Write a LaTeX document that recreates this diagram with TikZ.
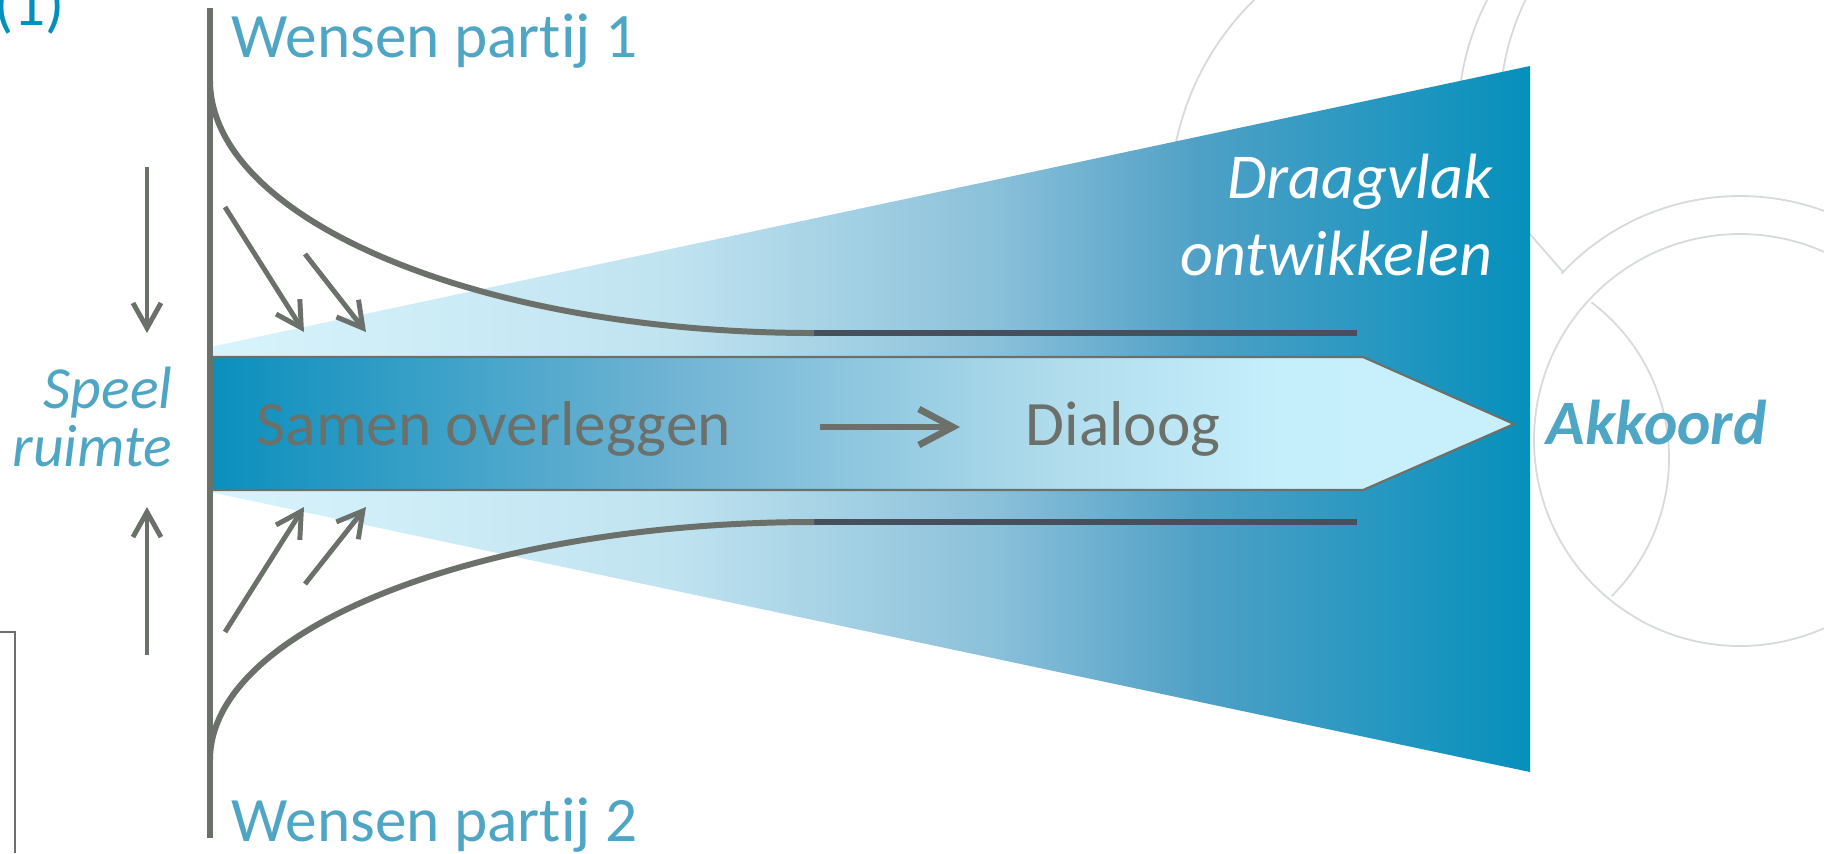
\documentclass[tikz,border=0pt]{standalone}
\usepackage{fontspec}
\setmainfont{Carlito}[Ligatures=NoCommon]
\usepackage{tikz}
\usepackage{xcolor}
\usetikzlibrary{arrows.meta}
\usetikzlibrary{positioning}

\definecolor{lijngrijs}{RGB}{107,112,106}
\definecolor{donkerlijn}{RGB}{71,79,92}
\definecolor{tekstblauw}{RGB}{78,166,196}
\definecolor{diepblauw}{RGB}{0,144,188}
\definecolor{watermerk}{RGB}{214,218,218}
\definecolor{tr0}{RGB}{216,244,252}
\definecolor{tr1}{RGB}{192,227,240}
\definecolor{tr2}{RGB}{140,193,218}
\definecolor{tr3}{RGB}{79,160,198}
\definecolor{tr4}{RGB}{5,144,188}
\definecolor{bd0}{RGB}{10,143,189}
\definecolor{bd1}{RGB}{111,179,211}
\definecolor{bd2}{RGB}{176,220,236}
\definecolor{bd3}{RGB}{198,239,252}
\definecolor{bd4}{RGB}{200,240,252}

\pgfdeclarehorizontalshading{trechter}{100bp}{color(0bp)=(tr0); color(25bp)=(tr0); color(42.5bp)=(tr1); color(54.5bp)=(tr2); color(62.5bp)=(tr3); color(75bp)=(tr4); color(100bp)=(tr4)}
\pgfdeclarehorizontalshading{dialoogband}{100bp}{color(0bp)=(bd0); color(25bp)=(bd0); color(42.5bp)=(bd1); color(57.5bp)=(bd2); color(66bp)=(bd3); color(75bp)=(bd4); color(100bp)=(bd4)}

\begin{document}
\begin{tikzpicture}[x=0.01cm, y=-0.01cm,
		ring/.style={watermerk, line width=0.5pt},
		wens/.style={text=tekstblauw, font=\fontsize{18}{21.6}\selectfont, anchor=base west, inner sep=0pt},
		speel/.style={text=tekstblauw, font=\fontsize{17}{20}\selectfont\itshape, anchor=base east, inner sep=0pt},
		grijstekst/.style={text=lijngrijs, font=\fontsize{18}{21.6}\selectfont, anchor=base west, inner sep=0pt},
		duwpijl/.style={-{Straight Barb[length=2.5mm, width=2.8mm]}, lijngrijs, line width=1.4pt},
		wand/.style={lijngrijs, line width=1.7pt},
		rail/.style={donkerlijn, line width=1.7pt}]
			\useasboundingbox (0,0) rectangle (1824,853);
			\clip (0,0) rectangle (1824,853);
			\fill[white] (0,0) rectangle (1824,853);
			\draw[ring] (1450,200) ++(185:280) arc[start angle=185, end angle=235, radius=280];
			\draw[ring] (1720,120) ++(180:262) arc[start angle=180, end angle=215, radius=262];
			\draw[ring] (1750,110) ++(180:250) arc[start angle=180, end angle=215, radius=250];
			\draw[ring] (1515,217) -- (1563,272);
			\draw[ring] (1740,440) ++(223:244) arc[start angle=223, end angle=300, radius=244];
			\draw[ring] (1740,440) circle[radius=206];
			\draw[ring] (1474,458) ++(-53:195) arc[start angle=-53, end angle=45, radius=195];
			\shade[shading=trechter] (210,347) -- (1530,66) -- (1530,772) -- (210,492) -- cycle;
			\draw[rail] (814,333) -- (1357,333);
			\draw[rail] (814,522) -- (1357,522);
			\draw[wand] (210,80) .. controls (210,220) and (480,333) .. (814,333);
			\draw[wand] (210,760) .. controls (210,629) and (480,522) .. (814,522);
			\shadedraw[shading=dialoogband, draw=lijngrijs, line width=0.6pt] (210,357) -- (1363,357) -- (1514,424) -- (1363,490) -- (210,490) -- cycle;
			\draw[wand] (210,8) -- (210,838);
			\draw[lijngrijs, line width=0.6pt] (0,632) -- (15,632) -- (15,853);
			\coordinate (sb) at (147,167);
			\coordinate (se) at (147,333);
			\coordinate (ob) at (147,655);
			\coordinate (oe) at (147,507);
			\coordinate (t1b) at (225,207);
			\coordinate (t1e) at (304,332);
			\coordinate (t2b) at (305,254);
			\coordinate (t2e) at (366,332);
			\coordinate (b1b) at (225,632);
			\coordinate (b1e) at (304,507);
			\coordinate (b2b) at (305,584);
			\coordinate (b2e) at (366,507);
			\coordinate (db) at (820,427);
			\coordinate (de) at (960,427);
			\draw[duwpijl] (sb) -- (se);
			\draw[duwpijl] (ob) -- (oe);
			\draw[duwpijl] (t1b) -- (t1e);
			\draw[duwpijl] (t2b) -- (t2e);
			\draw[duwpijl] (b1b) -- (b1e);
			\draw[duwpijl] (b2b) -- (b2e);
			\draw[duwpijl, line width=1.9pt, -{Straight Barb[length=3.4mm, width=3.6mm]}] (db) -- (de);
			\node[text=diepblauw, font=\fontsize{18}{21.6}\selectfont, anchor=base west, inner sep=0pt] (nr) at (-6,25) {(1)};
			\node[wens] (w1) at (231,57) {Wensen partij 1};
			\node[wens] (w2) at (231,841) {Wensen partij 2};
			\node[speel] (sp1) at (173,408) {Speel};
			\node[speel] (sp2) at (173,466) {ruimte};
			\node[grijstekst] (samen) at (256,445) {Samen overleggen};
			\node[grijstekst] (dia) at (1025,445) {Dialoog};
			\node[text=white, font=\fontsize{18.2}{21.9}\selectfont\itshape, align=right, anchor=base east, inner sep=0pt] (draag) at (1493,275) {Draagvlak\\ontwikkelen};
			\node[text=tekstblauw, font=\fontsize{18}{21.6}\selectfont\bfseries\itshape, anchor=base west, inner sep=0pt] (akk) at (1546,444) {Akkoord};
\end{tikzpicture}
\end{document}
